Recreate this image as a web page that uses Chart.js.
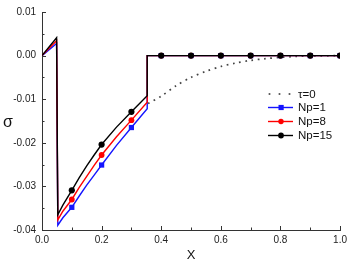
<!DOCTYPE html>
<html>
<head>
<meta charset="utf-8">
<script src="https://cdn.jsdelivr.net/npm/chart.js@4.4.1/dist/chart.umd.min.js"></script>
<style>
    html, body {margin: 0; padding: 0; background: #fff;}
    #wrap {width: 351px; height: 263px;}
</style>
</head>
<body>
<div id="wrap"><canvas id="myChart" width="351" height="263"></canvas></div>
<script>
// values
const npX = [0, 0.049, 0.053, 0.07, 0.1, 0.125, 0.15, 0.175, 0.2, 0.25, 0.3, 0.353, 0.353, 0.4, 0.5, 0.6, 0.7, 0.8, 0.9, 1.0];
const np1 = [0, 0.0028, -0.0389, -0.0372, -0.0348, -0.0322, -0.0297, -0.0274, -0.0251, -0.0206, -0.0165, -0.0122, 0, 0, 0, 0, 0, 0, 0, 0];
const np8 = [0, 0.0034, -0.0377, -0.0357, -0.0330, -0.0302, -0.0277, -0.0252, -0.0228, -0.0186, -0.0148, -0.0107, 0, 0, 0, 0, 0, 0, 0, 0];
const np15 = [0, 0.0041, -0.0365, -0.0343, -0.0309, -0.0280, -0.0253, -0.0228, -0.0204, -0.0164, -0.0129, -0.0092, 0, 0, 0, 0, 0, 0, 0, 0];
const tauX = [0.356, 0.4, 0.45, 0.5, 0.55, 0.6, 0.65, 0.7, 0.75, 0.8, 0.85, 0.9, 1.0];
const tau0 = [-0.0110, -0.0093, -0.0069, -0.0050, -0.0036, -0.0025, -0.0017, -0.0011, -0.0007, -0.0004, -0.0002, -0.0001, 0];
const markX = [0.1, 0.2, 0.3, 0.4, 0.5, 0.6, 0.7, 0.8, 0.9, 1.0];
const legendLabels = ['\u03c4=0', 'Np=1', 'Np=8', 'Np=15'];

const pts = (xs, ys) => xs.map((x, i) => ({x: x, y: ys[i]}));
const markR = r => c => (c.raw && markX.some(m => Math.abs(m - c.raw.x) < 1e-6)) ? r : 0;
const tickFont = {family: 'Liberation Sans, Arial', size: 10};

const sets = [
    {label: legendLabels[3], data: pts(npX, np15), borderColor: '#000', backgroundColor: '#000', pointStyle: 'circle', r: 3.1, order: 0},
    {label: legendLabels[2], data: pts(npX, np8), borderColor: '#ff0000', backgroundColor: '#ff0000', pointStyle: 'circle', r: 2.9, order: 1},
    {label: legendLabels[1], data: pts(npX, np1), borderColor: '#1414ff', backgroundColor: '#1414ff', pointStyle: 'rect', r: 3.7, order: 2}
].map(d => ({
    label: d.label, data: d.data, borderColor: d.borderColor, backgroundColor: d.backgroundColor,
    borderWidth: 1.4, tension: 0, pointStyle: d.pointStyle, pointRadius: markR(d.r), pointBorderWidth: 0,
    pointHoverRadius: 0, order: d.order
}));
sets.push({
    label: legendLabels[0], data: pts(tauX, tau0), borderColor: '#444', borderWidth: 1.7,
    borderDash: [1.7, 4.6], pointRadius: 0, tension: 0.3, order: 3
});

// inward ticks, axis titles and legend
const deco = {
    id: 'deco',
    afterDraw(chart) {
        const c = chart.ctx, xs = chart.scales.x, ys = chart.scales.y, a = chart.chartArea;
        c.save();
        c.strokeStyle = '#333';
        c.lineWidth = 1;
        c.beginPath();
        for (let i = 0; i <= 10; i++) {
            const px = Math.round(xs.getPixelForValue(i / 10)) + 0.5;
            c.moveTo(px, a.bottom);
            c.lineTo(px, a.bottom - (i % 2 === 0 ? 4 : 2.5));
        }
        for (let i = 0; i <= 10; i++) {
            const py = Math.round(ys.getPixelForValue(-0.04 + i * 0.005)) + 0.5;
            c.moveTo(a.left, py);
            c.lineTo(a.left + (i % 2 === 0 ? 4 : 2.5), py);
        }
        c.stroke();

        c.fillStyle = '#111';
        c.textAlign = 'center';
        c.textBaseline = 'middle';
        c.font = '13px Liberation Sans, Arial';
        c.fillText('X', (a.left + a.right) / 2, 255);
        c.font = '16px Liberation Sans, Arial';
        c.fillText('\u03c3', 8, 123);

        // legend
        const rows = [94, 107.5, 121.5, 135.5];
        const lx0 = 268, lx1 = 293;
        c.font = '11.5px Liberation Sans, Arial';
        c.textAlign = 'left';
        rows.forEach((y, k) => {
            c.beginPath();
            if (k === 0) {
                c.fillStyle = '#444';
                [269.5, 279.5, 289.5].forEach(px => { c.fillRect(px - 0.85, y - 0.85, 1.7, 1.7); });
            } else {
                const d = sets[3 - k];
                c.strokeStyle = d.borderColor;
                c.lineWidth = 1.4;
                c.moveTo(lx0, y);
                c.lineTo(lx1, y);
                c.stroke();
                c.fillStyle = d.backgroundColor;
                if (k === 1) {
                    c.fillRect(278.5, y - 2.6, 5.2, 5.2);
                } else {
                    c.beginPath();
                    c.arc(281, y, k === 2 ? 2.7 : 2.9, 0, Math.PI * 2);
                    c.fill();
                }
            }
            c.fillStyle = '#111';
            c.fillText(legendLabels[k], 298, y + 0.5);
        });
        c.restore();
    }
};

const myChart = new Chart(document.getElementById('myChart'), {
    type: 'line',
    data: {datasets: sets},
    options: {
        responsive: false,
        animation: false,
        events: [],
        layout: {padding: {top: 7, right: 8, left: 0, bottom: 0}},
        plugins: {legend: {display: false}, tooltip: {enabled: false}},
        scales: {
            x: {
                type: 'linear', min: 0, max: 1,
                grid: {display: false, drawTicks: false},
                border: {display: true, color: '#333', width: 1},
                ticks: {stepSize: 0.2, autoSkip: false, maxRotation: 0, padding: 4, color: '#222', font: tickFont,
                    callback: v => v.toFixed(1)},
                afterFit: s => { s.height = 33; }
            },
            y: {
                type: 'linear', min: -0.04, max: 0.01,
                grid: {display: false, drawTicks: false},
                border: {display: true, color: '#333', width: 1},
                ticks: {stepSize: 0.01, padding: 6, color: '#222', font: tickFont,
                    callback: v => Math.abs(v) < 1e-9 ? '0.00' : v.toFixed(2)},
                afterFit: s => { s.width = 42; }
            }
        }
    },
    plugins: [deco]
});
</script>
</body>
</html>
